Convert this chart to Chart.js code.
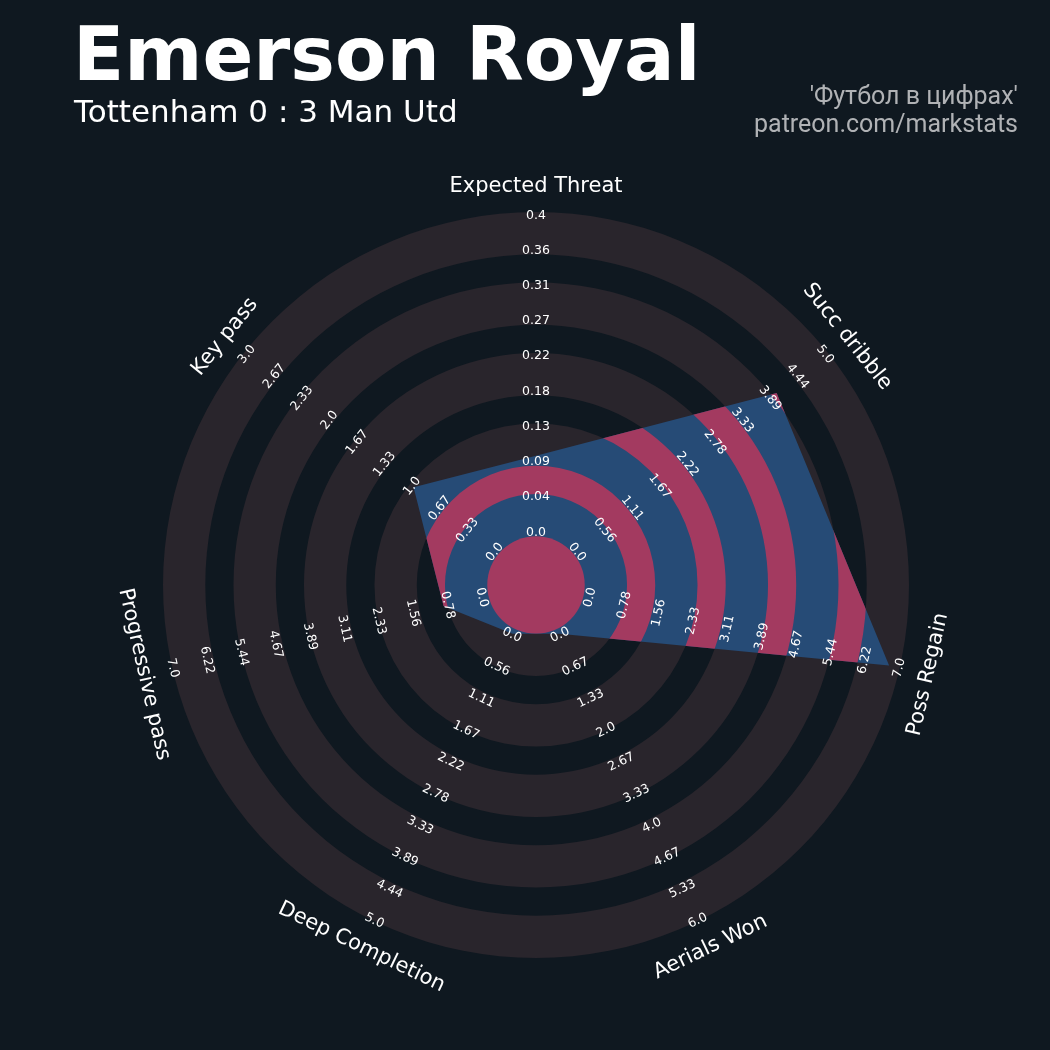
<!DOCTYPE html>
<html><head><meta charset="utf-8">
<script src="https://cdn.jsdelivr.net/npm/chart.js@4.4.1/dist/chart.umd.min.js"></script>
<style>
html,body{margin:0;padding:0;background:#0f1820;}
#wrap{position:relative;width:1050px;height:1050px;overflow:hidden;background:#0f1820;}
canvas{position:absolute;left:0;top:0;}
.t{position:absolute;white-space:nowrap;line-height:1;}
</style></head><body>
<div id="wrap">
<canvas id="c" width="1050" height="1050"></canvas>
<div class="t" style="left:73px;top:17px;font-weight:bold;font-size:75px;font-family:'DejaVu Sans';color:#ffffff;">Emerson Royal</div>
<div class="t" style="left:74px;top:96px;font-size:31px;font-family:'DejaVu Sans';color:#ffffff;">Tottenham 0 : 3 Man Utd</div>
<div class="t" style="right:32px;top:83px;font-size:25px;font-family:Roboto;color:#b0b2b5;text-align:right;">'Футбол в цифрах'</div>
<div class="t" style="right:32px;top:111px;font-size:25px;font-family:Roboto;color:#b0b2b5;text-align:right;">patreon.com/markstats</div>
</div>
<script>
// ---- data ----
const params = ['Expected Threat', 'Succ dribble', 'Poss Regain', 'Aerials Won', 'Deep Completion', 'Progressive pass', 'Key pass'];
const lows  = [0, 0, 0, 0, 0, 0, 0];
const highs = [0.4, 5, 7, 6, 5, 7, 3];
const values = [0.095, 4.0, 6.8, 0, 0, 0.9, 0.97];

const ticksExpectedThreat = ['0.0','0.04','0.09','0.13','0.18','0.22','0.27','0.31','0.36','0.4'];
const ticksSuccDribble    = ['0.0','0.56','1.11','1.67','2.22','2.78','3.33','3.89','4.44','5.0'];
const ticksPossRegain     = ['0.0','0.78','1.56','2.33','3.11','3.89','4.67','5.44','6.22','7.0'];
const ticksAerialsWon     = ['0.0','0.67','1.33','2.0','2.67','3.33','4.0','4.67','5.33','6.0'];
const ticksDeepCompletion = ['0.0','0.56','1.11','1.67','2.22','2.78','3.33','3.89','4.44','5.0'];
const ticksProgPass       = ['0.0','0.78','1.56','2.33','3.11','3.89','4.67','5.44','6.22','7.0'];
const ticksKeyPass        = ['0.0','0.33','0.67','1.0','1.33','1.67','2.0','2.33','2.67','3.0'];
const tickLabels = [ticksExpectedThreat, ticksSuccDribble, ticksPossRegain, ticksAerialsWon,
                    ticksDeepCompletion, ticksProgPass, ticksKeyPass];

// ---- style ----
const BG = '#0f1820', RING = '#29252c', BLUE = '#264b76', PINK = '#a33a60';
const STEPS = 9;                 // label steps per axis
const SCALE_MIN = -1.533, SCALE_MAX = 9.05;
const BAND_LO = -0.15, BAND_HI = 1.05;   // ring edges relative to each even step

const norm = values.map((v, i) => (v - lows[i]) / (highs[i] - lows[i]) * STEPS);

function textRot(i) {
  const ang = 90 - i * 360 / params.length; // math degrees
  let rot = ang - 90;
  while (rot <= -180) rot += 360;
  while (rot > 180) rot -= 360;
  if (rot < -90) rot += 180;
  if (rot > 90) rot -= 180;
  return -rot * Math.PI / 180;
}

const ringPlugin = {
  id: 'rings',
  beforeDatasetsDraw(chart) {
    const s = chart.scales.r, ctx = chart.ctx;
    ctx.save();
    ctx.fillStyle = RING;
    for (let k = 0; k < 5; k++) {
      const a = s.getDistanceFromCenterForValue(2 * k + BAND_LO);
      const b = s.getDistanceFromCenterForValue(2 * k + BAND_HI);
      ctx.beginPath();
      ctx.arc(s.xCenter, s.yCenter, b, 0, Math.PI * 2);
      ctx.arc(s.xCenter, s.yCenter, a, 0, Math.PI * 2, true);
      ctx.fill();
    }
    ctx.restore();
  },
  afterDatasetsDraw(chart) {
    const s = chart.scales.r, ctx = chart.ctx;
    const pts = chart.getDatasetMeta(0).data;
    ctx.save();
    ctx.beginPath();
    pts.forEach((p, i) => i ? ctx.lineTo(p.x, p.y) : ctx.moveTo(p.x, p.y));
    ctx.closePath();
    ctx.clip();
    ctx.fillStyle = PINK;
    ctx.beginPath();
    ctx.arc(s.xCenter, s.yCenter, s.getDistanceFromCenterForValue(BAND_LO), 0, Math.PI * 2);
    ctx.fill();
    for (let k = 0; k < 4; k++) {
      const a = s.getDistanceFromCenterForValue(2 * k + BAND_HI);
      const b = s.getDistanceFromCenterForValue(2 * k + 2 + BAND_LO);
      ctx.beginPath();
      ctx.arc(s.xCenter, s.yCenter, b, 0, Math.PI * 2);
      ctx.arc(s.xCenter, s.yCenter, a, 0, Math.PI * 2, true);
      ctx.fill();
    }
    ctx.restore();

    // tick labels
    ctx.save();
    ctx.fillStyle = '#ffffff';
    ctx.textAlign = 'center';
    ctx.textBaseline = 'middle';
    ctx.font = '12.5px "DejaVu Sans"';
    for (let i = 0; i < params.length; i++) {
      const rot = textRot(i);
      tickLabels[i].forEach((lab, j) => {
        const p = s.getPointPosition(i, s.getDistanceFromCenterForValue(j));
        ctx.save();
        ctx.translate(p.x, p.y);
        ctx.rotate(rot);
        ctx.fillText(lab, 0, 1.5);
        ctx.restore();
      });
    }
    // parameter labels
    ctx.font = '21px "DejaVu Sans"';
    for (let i = 0; i < params.length; i++) {
      const p = s.getPointPosition(i, s.drawingArea + 27);
      ctx.save();
      ctx.translate(p.x, p.y);
      ctx.rotate(textRot(i));
      ctx.fillText(params[i], 0, 2);
      ctx.restore();
    }
    ctx.restore();
  }
};

new Chart(document.getElementById('c'), {
  type: 'radar',
  data: {
    labels: params,
    datasets: [{
      data: norm,
      backgroundColor: BLUE,
      borderColor: 'rgba(0,0,0,0)',
      borderWidth: 0,
      pointRadius: 0,
      pointHoverRadius: 0,
      fill: 'start'
    }]
  },
  options: {
    responsive: false,
    animation: false,
    layout: { padding: { left: 163, right: 141, top: 212, bottom: 92 } },
    plugins: { legend: { display: false }, tooltip: { enabled: false } },
    elements: { line: { tension: 0 } },
    scales: {
      r: {
        min: SCALE_MIN, max: SCALE_MAX,
        beginAtZero: false,
        grid: { display: false },
        angleLines: { display: false },
        ticks: { display: false },
        pointLabels: { display: false }
      }
    }
  },
  plugins: [ringPlugin]
});
</script>
</body></html>
